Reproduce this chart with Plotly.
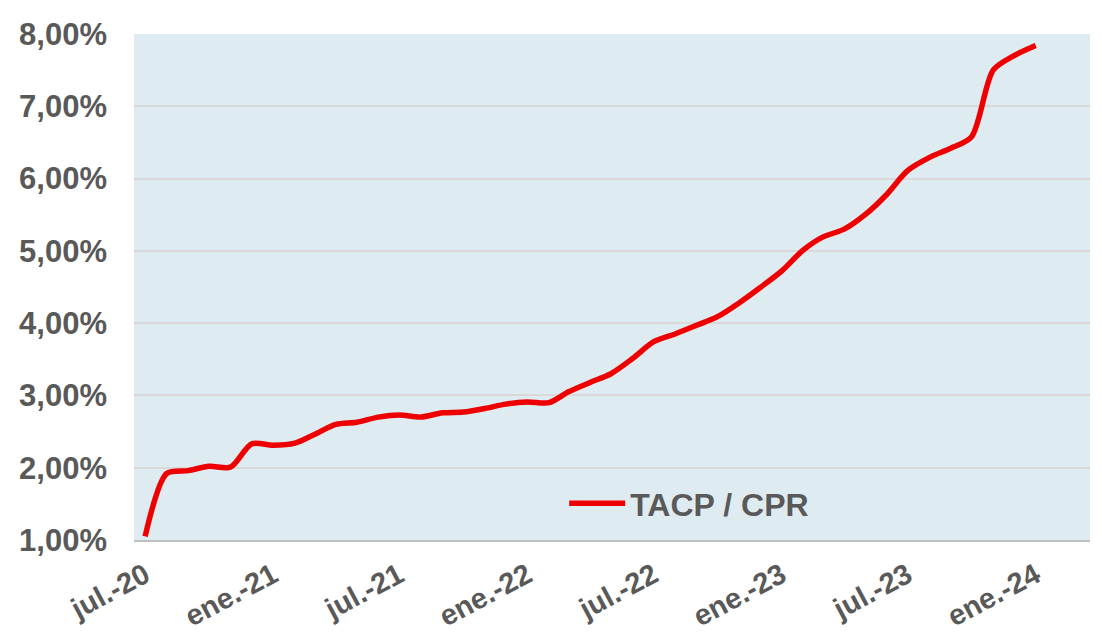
import plotly.graph_objects as go
import pandas as pd

# Monthly series jul-2020 .. ene-2024
months = pd.date_range("2020-07-01", "2024-01-01", freq="MS")
tacp_cpr = [
    1.05, 1.92, 1.96, 2.02, 2.01, 2.33, 2.31, 2.34, 2.46, 2.60,
    2.63, 2.70, 2.73, 2.70, 2.76, 2.77, 2.82, 2.88, 2.91, 2.90,
    3.05, 3.18, 3.30, 3.51, 3.74, 3.85, 3.97, 4.09, 4.28, 4.49,
    4.72, 5.01, 5.19, 5.30, 5.50, 5.78, 6.11, 6.29, 6.42, 6.58,
    7.50, 7.70, 7.84,
]
series_name = "TACP / CPR"

x_tick_vals = ["2020-07-01", "2021-01-01", "2021-07-01", "2022-01-01",
               "2022-07-01", "2023-01-01", "2023-07-01", "2024-01-01"]
x_tick_text = ["jul.-20", "ene.-21", "jul.-21", "ene.-22",
               "jul.-22", "ene.-23", "jul.-23", "ene.-24"]
y_tick_vals = [1, 2, 3, 4, 5, 6, 7, 8]
y_tick_text = ["1,00%", "2,00%", "3,00%", "4,00%", "5,00%", "6,00%", "7,00%", "8,00%"]

FONT = "Liberation Sans, Arial, sans-serif"
GRAY = "#595959"

fig = go.Figure()
fig.add_trace(go.Scatter(
    x=months, y=tacp_cpr, name=series_name, mode="lines",
    line=dict(color="#EE0000", width=5.5, shape="spline", smoothing=0.8),
))

fig.update_layout(
    width=1094, height=630,
    margin=dict(l=126, r=12, t=26, b=98),
    paper_bgcolor="white",
    plot_bgcolor="#DEEBF1",
    showlegend=True,
    legend=dict(
        x=0.450, y=0.072, xanchor="left", yanchor="middle",
        bgcolor="rgba(0,0,0,0)", itemwidth=56,
        font=dict(family=FONT, size=32, color=GRAY, weight="bold"),
    ),
    xaxis=dict(
        type="date",
        range=["2020-06-15", "2024-03-19"],
        tickvals=x_tick_vals, ticktext=x_tick_text,
        tickangle=-28,
        tickfont=dict(family=FONT, size=29, color=GRAY, weight="bold"),
        showgrid=False, zeroline=False,
        showline=True, linecolor="#BFBFBF", linewidth=2,
        ticks="", ticklabelstandoff=5, automargin=False,
    ),
    yaxis=dict(
        range=[1, 8],
        tickvals=y_tick_vals, ticktext=y_tick_text,
        tickfont=dict(family=FONT, size=31, color=GRAY, weight="bold"),
        showgrid=True, gridcolor="#D9D9D9", gridwidth=1.5,
        zeroline=False, showline=False,
        ticks="", ticklabelstandoff=26, automargin=False,
    ),
)

fig.write_html("out.html")
